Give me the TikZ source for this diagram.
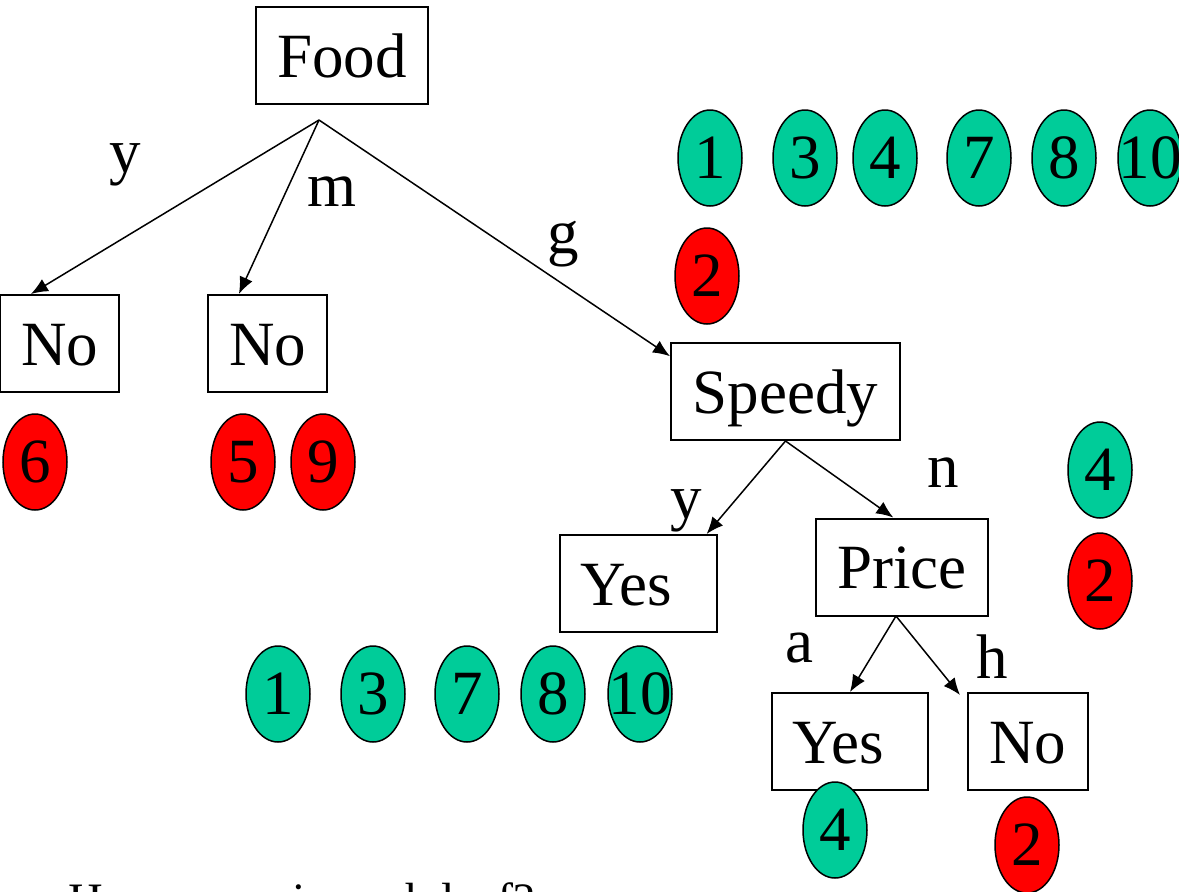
\documentclass[tikz,border=0pt]{standalone}
\usepackage{fontspec}
\setmainfont{Liberation Serif}
\usepackage{tikz}
\usetikzlibrary{shapes.geometric, arrows.meta}

\definecolor{exgreen}{RGB}{0,204,153}
\definecolor{exred}{RGB}{255,0,0}

\begin{document}
\begin{tikzpicture}[x=0.5pt, y=-0.5pt,
  bigfont/.style={font=\fontsize{31.5}{36}\selectfont},
  treebox/.style={draw, line width=1pt, fill=white, inner sep=0pt,
    minimum height=48.5pt, text height=21.5pt, text depth=0pt, bigfont},
  posex/.style={ellipse, draw, line width=0.75pt, fill=exgreen, inner sep=0pt,
    minimum width=32pt, minimum height=48pt, bigfont},
  negex/.style={posex, fill=exred},
  lbl/.style={anchor=base, inner sep=0pt, bigfont},
  branch/.style={-{Latex[length=8.5pt, width=7pt]}, line width=0.75pt}]

\useasboundingbox (0,0) rectangle (1179,891);

% Tree nodes
\node[treebox, minimum width=86pt] (food) at (342,55.5) {Food};
\node[treebox, minimum width=59.5pt] (no1) at (59.5,343.5) {No};
\node[treebox, minimum width=59.5pt] (no2) at (267.5,343.5) {No};
\node[treebox, minimum width=114.5pt] (speedy) at (785.5,391.5) {Speedy};
\node[treebox, minimum width=78.5pt] (yes1) at (638.5,583.5) {\makebox[58.5pt][l]{Yes}};
\node[treebox, minimum width=86pt] (price) at (902,567) {Price};
\node[treebox, minimum width=78pt] (yes2) at (850,741.5) {\makebox[58pt][l]{Yes}};
\node[treebox, minimum width=60pt] (no3) at (1028,741.5) {No};

% Branches from Food
\coordinate (foodtip) at (319,120);
\draw[branch] (foodtip) -- (no1.120);
\draw[branch] (foodtip) -- (no2.120);
\draw[branch] (foodtip) -- (speedy.163);
\node[lbl] (ly) at (125,172) {y};
\node[lbl] (lm) at (332,206) {m};
\node[lbl] (lg) at (563,253) {g};

% Branches from Speedy
\draw[branch] (speedy.south) -- (yes1.36);
\draw[branch] (speedy.south) -- (price.100);
\node[lbl] (ly2) at (686,518) {y};
\node[lbl] (ln) at (943,487) {n};

% Branches from Price
\coordinate (pricetip) at (896,616);
\coordinate (no3tip) at (960,695);
\draw[branch] (pricetip) -- (yes2.north);
\draw[branch] (pricetip) -- (no3tip);
\node[lbl] (la) at (799,662) {a};
\node[lbl] (lh) at (992,678) {h};

\begin{scope}
\clip (0,0) rectangle (1179,891);

% Examples at the root
\node[posex] (r1) at (710,158) {1};
\node[posex] (r3) at (805,158) {3};
\node[posex] (r4) at (885,158) {4};
\node[posex] (r7) at (979,158) {7};
\node[posex] (r8) at (1064,158) {8};
\node[posex] (r10) at (1150,158) {\makebox[0pt]{10}};
\node[negex] (r2) at (707,276) {2};

% Examples under the No leaves
\node[negex] (n6) at (35,462) {6};
\node[negex] (n5) at (243,462) {5};
\node[negex] (n9) at (323,462) {9};

% Examples at Speedy
\node[posex] (s4) at (1100,470) {4};
\node[negex] (s2) at (1100,581) {2};

% Examples under Yes
\node[posex] (y1) at (278,694) {1};
\node[posex] (y3) at (373,694) {3};
\node[posex] (y7) at (467,694) {7};
\node[posex] (y8) at (553,694) {8};
\node[posex] (y10) at (640,694) {\makebox[0pt]{10}};

% Examples under the Price leaves
\node[posex] (p4) at (835,830) {4};
\node[negex] (p2) at (1027,845) {2};

% Cut-off line of text
\node[anchor=base west, inner sep=0pt, font=\fontsize{24}{28}\selectfont]
  (caption) at (68,916) {How many in each leaf?};
\end{scope}

\end{tikzpicture}
\end{document}
